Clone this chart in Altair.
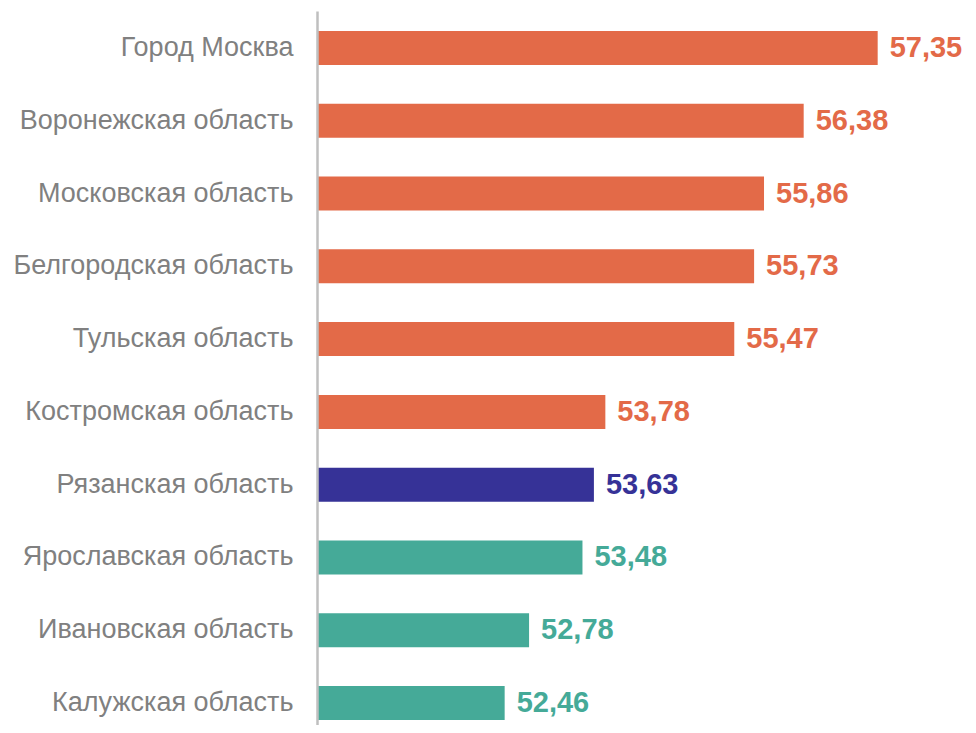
import altair as alt
import pandas as pd

regions = [
    "Город Москва",
    "Воронежская область",
    "Московская область",
    "Белгородская область",
    "Тульская область",
    "Костромская область",
    "Рязанская область",
    "Ярославская область",
    "Ивановская область",
    "Калужская область",
]
values = [57.35, 56.38, 55.86, 55.73, 55.47, 53.78, 53.63, 53.48, 52.78, 52.46]
labels = ["57,35", "56,38", "55,86", "55,73", "55,47", "53,78", "53,63", "53,48", "52,78", "52,46"]
colors = ["#E36A48"] * 6 + ["#363297"] + ["#45AA98"] * 3
axis_start = 50

df = pd.DataFrame({"region": regions, "value": values, "label": labels, "color": colors})

x = alt.X("value:Q", scale=alt.Scale(domain=[axis_start, 58.534], zero=False, nice=False), axis=None)
y = alt.Y(
    "region:N",
    sort=regions,
    scale=alt.Scale(paddingInner=0.533, paddingOuter=0.1717, align=0.8, round=False),
    axis=alt.Axis(
        title=None,
        ticks=False,
        labelFont="Liberation Sans",
        labelFontSize=27,
        labelColor="#808080",
        labelPadding=24,
        domainColor="#BFBFBF",
        domainWidth=2.5,
        grid=False,
        labelLimit=400,
        zindex=1,
    ),
)

bars = alt.Chart(df).mark_bar().encode(
    x=x, x2=alt.datum(axis_start), y=y, color=alt.Color("color:N", scale=None)
)
text = alt.Chart(df).mark_text(
    align="left", baseline="middle", dx=12, font="Liberation Sans", fontWeight="bold", fontSize=29
).encode(x=x, y=y, text="label:N", color=alt.Color("color:N", scale=None))

chart = (
    alt.layer(bars, text)
    .properties(
        width=651,
        height=714,
        autosize=alt.AutoSizeParams(type="none"),
        padding={"left": 309, "top": 3, "right": 0, "bottom": 0},
    )
    .configure(background="white", view=alt.ViewConfig(stroke=None))
)

chart.save("out.html", embed_options={"renderer": "svg", "actions": False})
